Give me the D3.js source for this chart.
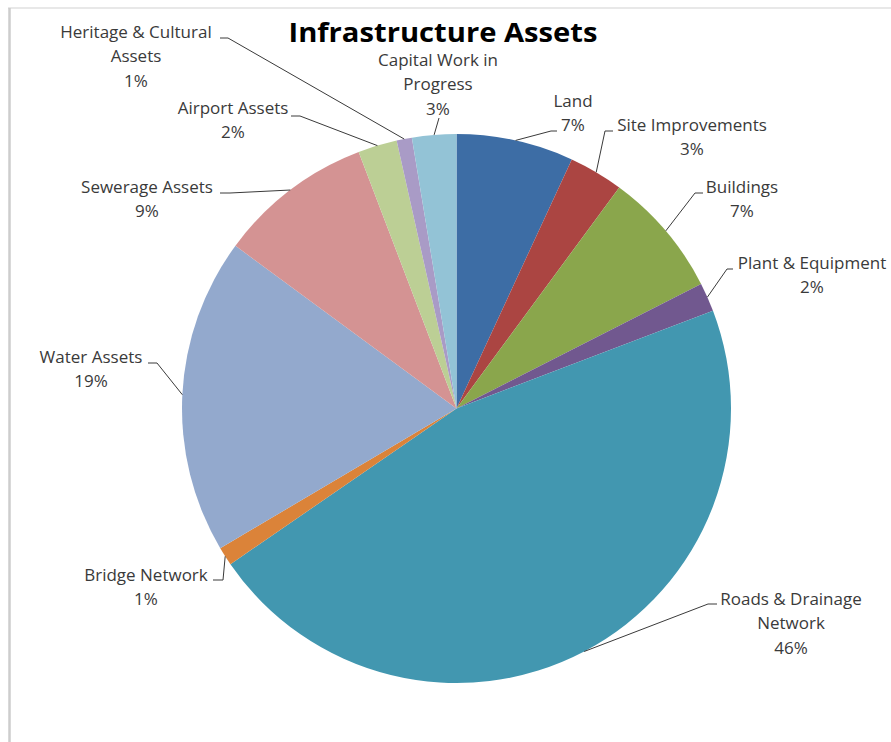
<!DOCTYPE html>
<html>
<head>
<meta charset="utf-8">
<script src="https://cdn.jsdelivr.net/npm/d3@7"></script>
<style>
  html, body { margin: 0; padding: 0; background: #fff; }
  svg { display: block; }
</style>
</head>
<body>
<svg id="chart" width="891" height="742"></svg>
<script>
// Infrastructure asset classes, clockwise from 12 o'clock
const categories = [
  "Land", "Site Improvements", "Buildings", "Plant & Equipment",
  "Roads & Drainage Network", "Bridge Network", "Water Assets",
  "Sewerage Assets", "Airport Assets", "Heritage & Cultural Assets",
  "Capital Work in Progress"
];
// Share of total asset value (%)
const shares = [6.9, 3.2, 7.4, 1.7, 46.2, 1.1, 18.6, 9.1, 2.3, 0.9, 2.6];
const sliceColors = [
  "#3d6da5", "#ab4542", "#8aa64c", "#71588f", "#4297b0", "#db8339",
  "#93a9cd", "#d49393", "#bccf95", "#a99bc6", "#93c3d6"
];
// Category names as broken over lines in the data labels
const labelLines = [
  ["Land"], ["Site Improvements"], ["Buildings"], ["Plant & Equipment"],
  ["Roads & Drainage", "Network"], ["Bridge Network"], ["Water Assets"],
  ["Sewerage Assets"], ["Airport Assets"], ["Heritage & Cultural", "Assets"],
  ["Capital Work in", "Progress"]
];

// Label block layout: centre x, first-line y, leader stub start/end
const labelLayout = [
  { cx: 573, y: 101, stub: [[557, 131], [551, 131]] },
  { cx: 692, y: 125, stub: [[613, 131], [605, 131]] },
  { cx: 742, y: 187, stub: [[703, 193], [695, 193]] },
  { cx: 812, y: 263, stub: [[733, 269], [727, 269]] },
  { cx: 791, y: 599, stub: [[717, 604], [708, 604]] },
  { cx: 146, y: 575, stub: [[213, 580], [223, 580]] },
  { cx: 91,  y: 357, stub: [[148, 363], [157, 363]] },
  { cx: 147, y: 187, stub: [[220, 193], [230, 193]] },
  { cx: 233, y: 108, stub: [[291, 116], [300, 116]] },
  { cx: 136, y: 32,  stub: [[220, 38],  [228, 38]] },
  { cx: 438, y: 60,  stub: [[439, 118], [439, 118]] }
];

const svg = d3.select("#chart");
const W = 891, H = 742;
const cx = 456.5, cy = 408.5, R = 274.5;
const font = "'Open Sans', Lato, sans-serif";

// Frame edges
svg.append("line").attr("x1", 8).attr("x2", W).attr("y1", 8).attr("y2", 8)
  .attr("stroke", "#e8e8e8").attr("stroke-width", 2);
svg.append("line").attr("x1", 9.5).attr("x2", 9.5).attr("y1", 8).attr("y2", H)
  .attr("stroke", "#cdcdcd").attr("stroke-width", 2.5);

// Title
svg.append("text")
  .attr("x", 443).attr("y", 42)
  .attr("text-anchor", "middle")
  .attr("font-family", font)
  .attr("font-weight", "bold")
  .attr("font-size", 27)
  .attr("textLength", 309)
  .attr("lengthAdjust", "spacingAndGlyphs")
  .attr("fill", "#000")
  .text("Infrastructure Assets");

const data = categories.map((c, i) => ({ name: c, value: shares[i], i }));
const total = d3.sum(shares);

const pie = d3.pie().sort(null).value(d => d.value);
const arc = d3.arc().innerRadius(0).outerRadius(R);
const arcs = pie(data);

const g = svg.append("g").attr("transform", `translate(${cx},${cy})`);
g.selectAll("path.slice")
  .data(arcs)
  .join("path")
  .attr("class", "slice")
  .attr("d", arc)
  .attr("fill", d => sliceColors[d.data.i]);

// Leader lines: from the label stub to the middle of each slice's arc
const leaders = svg.append("g");
arcs.forEach(a => {
  const mid = (a.startAngle + a.endAngle) / 2;
  const px = cx + R * Math.sin(mid);
  const py = cy - R * Math.cos(mid);
  const L = labelLayout[a.data.i];
  const pts = [L.stub[0], L.stub[1], [px, py]];
  leaders.append("path")
    .attr("d", d3.line()(pts))
    .attr("fill", "none")
    .attr("stroke", "#3a3a3a")
    .attr("stroke-width", 1);
});

// Data labels: category name and rounded percentage
const labels = svg.append("g")
  .attr("font-family", font)
  .attr("font-size", 17)
  .attr("fill", "#3a3a3a")
  .attr("text-anchor", "middle");
arcs.forEach(a => {
  const i = a.data.i;
  const L = labelLayout[i];
  const lines = labelLines[i].concat([Math.round(a.data.value / total * 100) + "%"]);
  lines.forEach((t, k) => {
    labels.append("text")
      .attr("x", L.cx)
      .attr("y", L.y + k * 24.5)
      .attr("dy", "0.35em")
      .text(t);
  });
});
</script>
</body>
</html>
